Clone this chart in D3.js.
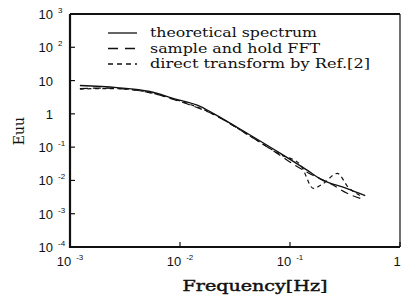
<!DOCTYPE html>
<html>
<head>
<meta charset="utf-8">
<script src="https://cdn.jsdelivr.net/npm/d3@7"></script>
<style>
  body { margin: 0; background: #fff; }
  svg { display: block; }
  .tick-label { font-family: "Liberation Sans", Arial, sans-serif; font-size: 13px; fill: #111; }
  .sup { font-size: 8px; }
  .axis-title { font-family: "DejaVu Serif", "Liberation Serif", serif; font-size: 14px; fill: #111; }
  .legend-text { font-family: "DejaVu Serif", "Liberation Serif", serif; font-size: 13px; fill: #111; }
  .curve { fill: none; stroke: #111; }
</style>
</head>
<body>
<svg width="401" height="299"></svg>
<script>
// frequency [Hz] / Euu
var theoFreq = [0.00123, 0.00267, 0.00531, 0.00877, 0.0154, 0.0202, 0.0411, 0.0818, 0.144, 0.188, 0.331, 0.483];
var theoEuu  = [7.08, 6.16, 4.68, 2.88, 1.66, 1.02, 0.257, 0.065, 0.020, 0.0112, 0.0057, 0.0035];

var holdFreq = [0.00123, 0.0019, 0.00267, 0.00531, 0.00877, 0.0202, 0.0411, 0.0818, 0.112, 0.163, 0.232, 0.331, 0.462];
var holdEuu  = [5.75, 5.96, 5.75, 4.36, 2.69, 0.95, 0.24, 0.056, 0.028, 0.0141, 0.0081, 0.0041, 0.0027];

var directFreq = [0.00123, 0.0019, 0.00267, 0.00531, 0.00877, 0.0202, 0.0411, 0.0818, 0.124, 0.163, 0.201, 0.269, 0.339, 0.435];
var directEuu  = [5.56, 5.75, 5.75, 4.36, 2.79, 0.98, 0.24, 0.060, 0.030, 0.0058, 0.0081, 0.0162, 0.0062, 0.0035];

var xTicks = [1e-3, 1e-2, 1e-1, 1];
var yTicks = [1e-4, 1e-3, 1e-2, 1e-1, 1, 10, 1e2, 1e3];

var legendNames = ['theoretical spectrum', 'sample and hold FFT', 'direct transform by Ref.[2]'];
var legendDash = [null, '10,7', '5,4'];
var seriesDash = [null, '8,5', '4,3.5'];

(function() {
var svg = d3.select('svg'),
    pLeft = 70, pRight = 400, pTop = 14, pBottom = 247;

var x = d3.scaleLog().domain([1e-3, 1]).range([pLeft, pRight]);
var y = d3.scaleLog().domain([1e-4, 1e3]).range([pBottom, pTop]);

var series = [
  d3.zip(theoFreq, theoEuu),
  d3.zip(holdFreq, holdEuu),
  d3.zip(directFreq, directEuu)
];

var line = d3.line()
    .x(function(d) { return x(d[0]); })
    .y(function(d) { return y(d[1]); })
    .curve(d3.curveMonotoneX);

series.forEach(function(s, i) {
  svg.append('path')
    .attr('class', 'curve')
    .attr('stroke-width', i == 0 ? 1.4 : 1.2)
    .attr('stroke-dasharray', seriesDash[i])
    .attr('d', line(s));
});

// frame: right side thin, the others heavy
svg.append('path')
  .attr('d', 'M' + pRight + ',' + pTop + ' L' + pRight + ',' + pBottom)
  .attr('fill', 'none').attr('stroke', '#111').attr('stroke-width', 1.2);
svg.append('path')
  .attr('d', 'M' + pLeft + ',' + pTop + ' L' + pRight + ',' + pTop + ' M' + pLeft + ',' + pTop + ' L' + pLeft + ',' + pBottom + ' L' + pRight + ',' + pBottom)
  .attr('fill', 'none').attr('stroke', '#111').attr('stroke-width', 2.2);

// inward ticks
svg.selectAll('.xtick').data(xTicks).enter().append('path')
  .attr('d', function(d) { return 'M' + x(d) + ',' + pBottom + ' L' + x(d) + ',' + (pBottom - 5); })
  .attr('stroke', '#111').attr('stroke-width', 1.2);
svg.selectAll('.ytick').data(yTicks).enter().append('path')
  .attr('d', function(d) { return 'M' + pLeft + ',' + y(d) + ' L' + (pLeft + 5) + ',' + y(d); })
  .attr('stroke', '#111').attr('stroke-width', 1.2);

function expOf(d) { return Math.round(Math.log10(d)); }

// x tick labels
svg.selectAll('.xlab').data(xTicks).enter().append('text')
  .attr('class', 'tick-label')
  .attr('text-anchor', 'middle')
  .attr('x', function(d) { return x(d) - (d == 1 ? 3 : 0); })
  .attr('y', 266)
  .each(function(d) {
    var t = d3.select(this), e = expOf(d);
    if (e == 0) { t.text('1'); return; }
    t.append('tspan').text('10');
    t.append('tspan').attr('class', 'sup').attr('dx', 5).attr('dy', -6).text('-' + Math.abs(e));
  });

// y tick labels
yTicks.forEach(function(d) {
  var e = expOf(d), yy = y(d);
  if (e == 0 || e == 1) {
    svg.append('text').attr('class', 'tick-label').attr('text-anchor', 'end')
      .attr('x', 53).attr('y', yy + 5).text(e == 0 ? '1' : '10');
    return;
  }
  svg.append('text').attr('class', 'tick-label').attr('text-anchor', 'end')
    .attr('x', 53).attr('y', yy + 5).text('10');
  svg.append('text').attr('class', 'tick-label sup')
    .attr('x', 58).attr('y', yy - 1).text(e < 0 ? '-' + Math.abs(e) : e);
});

// axis titles
svg.append('text').attr('class', 'axis-title')
  .attr('x', 255).attr('y', 291).attr('text-anchor', 'middle')
  .attr('textLength', 145).attr('lengthAdjust', 'spacingAndGlyphs')
  .style('font-size', '15px')
  .style('stroke', '#111').style('stroke-width', 0.45)
  .text('Frequency[Hz]');

svg.append('text').attr('class', 'axis-title')
  .attr('transform', 'translate(24,131) rotate(-90)')
  .attr('text-anchor', 'middle')
  .text('Euu');

// legend
legendNames.forEach(function(name, i) {
  var ly = 33 + i * 15.5;
  svg.append('path')
    .attr('d', 'M108,' + ly + ' L137,' + ly)
    .attr('stroke', '#111').attr('stroke-width', 1.3)
    .attr('stroke-dasharray', legendDash[i]);
  svg.append('text').attr('class', 'legend-text')
    .attr('x', 150).attr('y', ly + 4)
    .attr('textLength', [167, 170, 220][i]).attr('lengthAdjust', 'spacingAndGlyphs')
    .text(name);
});
})();
</script>
</body>
</html>
